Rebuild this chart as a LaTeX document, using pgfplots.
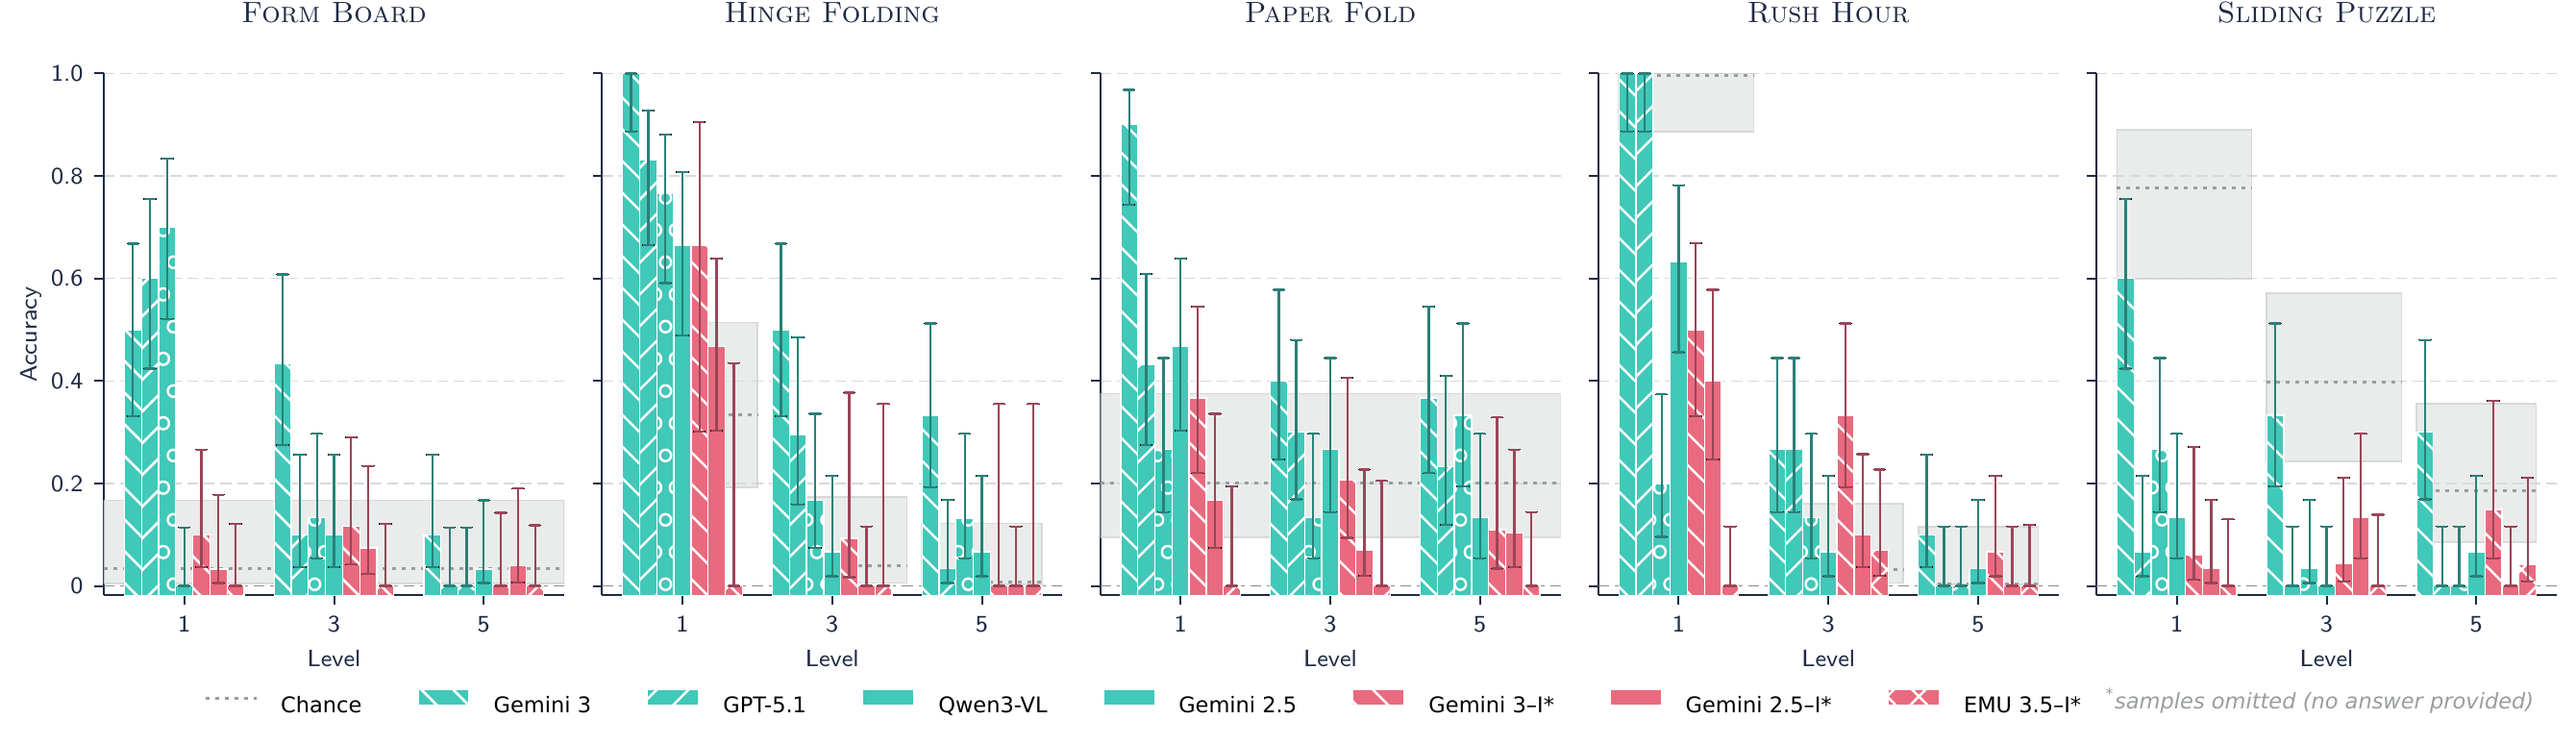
\documentclass[border=0pt]{standalone}
\usepackage{fontspec}
\usepackage{pgfplots}
\usepackage{pgfplotstable}
\pgfplotsset{compat=1.18}
\usetikzlibrary{patterns.meta,plotmarks}
\newfontfamily\legfont{DejaVu Sans}

\definecolor{tealbar}{HTML}{40C8B8}
\definecolor{pinkbar}{HTML}{E96A7E}
\definecolor{tealerr}{HTML}{2A8078}
\definecolor{pinkerr}{HTML}{9B4557}
\definecolor{navy}{HTML}{1E2A44}
\definecolor{gridc}{HTML}{D6D9DD}
\definecolor{bandfill}{HTML}{D9DDDB}
\definecolor{bandedge}{HTML}{C9CECC}
\definecolor{chancec}{HTML}{999D9D}
\definecolor{zeroc}{HTML}{858B94}

% open circles on a centred lattice for the Qwen3-VL bars
\pgfdeclarepattern{
  name=rings,
  type=uncolored,
  bottom left={\pgfpoint{0pt}{0pt}},
  top right={\pgfpoint{6.4pt}{20pt}},
  tile size={\pgfpoint{6.4pt}{20pt}},
  code={
    \pgfsetlinewidth{0.75pt}
    \pgfpathcircle{\pgfpoint{0pt}{0pt}}{1.8pt}
    \pgfpathcircle{\pgfpoint{6.4pt}{0pt}}{1.8pt}
    \pgfpathcircle{\pgfpoint{0pt}{20pt}}{1.8pt}
    \pgfpathcircle{\pgfpoint{6.4pt}{20pt}}{1.8pt}
    \pgfpathcircle{\pgfpoint{3.2pt}{10pt}}{1.8pt}
    \pgfusepath{stroke}
  }
}

% value, lower and upper end of the interval for each model and level
\pgfplotstableread{
lvl g3 g3l g3h gp gpl gph qw qwl qwh gf gfl gfh gi gil gih gfi gfil gfih emu emul emuh
1 0.500 0.331 0.668 0.600 0.424 0.755 0.700 0.521 0.834 0 0 0.114 0.100 0.037 0.266 0.033 0.006 0.178 0 0 0.121
3 0.433 0.275 0.608 0.100 0.037 0.256 0.133 0.054 0.297 0.100 0.037 0.256 0.116 0.042 0.290 0.074 0.023 0.234 0 0 0.121
5 0.100 0.037 0.256 0 0 0.114 0 0 0.114 0.033 0.006 0.167 0 0 0.143 0.039 0.007 0.190 0 0 0.118
}\tabFB
\pgfplotstableread{
lvl g3 g3l g3h gp gpl gph qw qwl qwh gf gfl gfh gi gil gih gfi gfil gfih emu emul emuh
1 1.000 0.887 1.000 0.831 0.665 0.928 0.766 0.591 0.881 0.665 0.489 0.808 0.665 0.301 0.905 0.467 0.303 0.639 0 0 0.435
3 0.500 0.331 0.668 0.295 0.159 0.485 0.167 0.074 0.336 0.067 0.019 0.215 0.093 0.017 0.377 0 0 0.116 0 0 0.355
5 0.332 0.193 0.512 0.034 0.006 0.168 0.132 0.054 0.297 0.067 0.019 0.215 0 0 0.355 0 0 0.116 0 0 0.355
}\tabHF
\pgfplotstableread{
lvl g3 g3l g3h gp gpl gph qw qwl qwh gf gfl gfh gi gil gih gfi gfil gfih emu emul emuh
1 0.900 0.744 0.968 0.432 0.275 0.609 0.267 0.144 0.445 0.467 0.303 0.639 0.367 0.220 0.545 0.167 0.074 0.336 0 0 0.194
3 0.400 0.247 0.578 0.300 0.169 0.480 0.133 0.054 0.297 0.267 0.144 0.445 0.207 0.094 0.406 0.069 0.020 0.227 0 0 0.205
5 0.367 0.220 0.545 0.233 0.119 0.410 0.333 0.194 0.512 0.133 0.054 0.297 0.110 0.034 0.329 0.103 0.037 0.266 0 0 0.144
}\tabPF
\pgfplotstableread{
lvl g3 g3l g3h gp gpl gph qw qwl qwh gf gfl gfh gi gil gih gfi gfil gfih emu emul emuh
1 1.000 0.887 1.000 1.000 0.887 1.000 0.200 0.096 0.374 0.633 0.456 0.782 0.500 0.331 0.669 0.400 0.247 0.578 0 0 0.116
3 0.267 0.144 0.445 0.267 0.144 0.445 0.133 0.054 0.297 0.067 0.019 0.215 0.333 0.193 0.512 0.100 0.037 0.257 0.070 0.020 0.227
5 0.100 0.037 0.256 0 0 0.116 0 0 0.116 0.034 0.006 0.168 0.067 0.019 0.215 0 0 0.116 0 0 0.119
}\tabRH
\pgfplotstableread{
lvl g3 g3l g3h gp gpl gph qw qwl qwh gf gfl gfh gi gil gih gfi gfil gfih emu emul emuh
1 0.600 0.424 0.755 0.067 0.019 0.215 0.267 0.144 0.445 0.133 0.054 0.297 0.060 0.012 0.271 0.034 0.006 0.168 0 0 0.130
3 0.333 0.194 0.512 0 0 0.116 0.034 0.006 0.168 0 0 0.116 0.043 0.009 0.211 0.133 0.054 0.297 0 0 0.139
5 0.300 0.169 0.480 0 0 0.116 0 0 0.116 0.067 0.019 0.215 0.149 0.054 0.361 0 0 0.116 0.042 0.009 0.211
}\tabSP

\pgfplotsset{
  barleg/.style={legend image code/.code={%
      \draw[##1] (0pt,0.4pt) rectangle (15.9pt,5.5pt);
      \path[draw=none, fill=none] (0pt,0pt) -- (23.4pt,0pt);}},
  chanceleg/.style={legend image code/.code={%
      \draw[##1] (0pt,2.7pt) -- (15.9pt,2.7pt);
      \path[draw=none] (0pt,0pt) -- (23.4pt,0pt);}},
  basebar/.style={ybar, bar width=0.22857, bar shift=0, draw=white, line width=0.4pt, barleg},
  sg3/.style={fill=tealbar, postaction={pattern={Lines[angle=-45,distance=7pt,line width=0.75pt]}, pattern color=white}},
  sgp/.style={fill=tealbar, postaction={pattern={Lines[angle=45,distance=7pt,line width=0.75pt]}, pattern color=white}},
  sqw/.style={fill=tealbar, postaction={pattern=rings, pattern color=white}},
  sgf/.style={fill=tealbar},
  sgi/.style={fill=pinkbar, postaction={pattern={Lines[angle=-45,distance=7pt,line width=0.75pt]}, pattern color=white}},
  sgfi/.style={fill=pinkbar},
  semu/.style={fill=pinkbar, postaction={pattern={Hatch[angle=45,distance=7pt,line width=0.75pt]}, pattern color=white}},
  capmark/.style={forget plot, only marks, mark=-, mark size=1.7pt,
    mark options={draw=#1, line width=0.7pt, solid}},
  band/.style={fill=bandfill, fill opacity=0.55, draw=bandedge, draw opacity=0.7, line width=0.5pt, forget plot},
  chance/.style={chancec, line width=0.9pt, dash pattern=on 1.2pt off 1.8pt, chanceleg},
  zeroline/.style={zeroc, line width=0.5pt, dash pattern=on 3.4pt off 1.8pt, forget plot},
  panel/.style={
    width=143.7pt, height=162.9pt, scale only axis, anchor=south west,
    xmin=-0.075, xmax=6.075, ymin=-0.0186, ymax=1,
    y coord trafo/.code={\pgfmathparse{##1+0.0186}},
    y coord inv trafo/.code={\pgfmathparse{##1-0.0186}},
    axis lines*=left, axis line style={navy, line width=0.6pt, -},
    xtick={1,3,5}, xticklabels={\textsf{1},\textsf{3},\textsf{5}},
    ytick={0,0.2,0.4,0.6,0.8,1.0}, yticklabels={},
    tick align=outside, major tick length=2.9pt,
    tick style={navy, line width=0.6pt},
    ymajorgrids, grid style={gridc, line width=0.45pt, dash pattern=on 3.4pt off 1.8pt},
    ticklabel style={font=\fontsize{7.4}{9}\selectfont, text=navy},
    title style={at={(0.5,1)}, anchor=base, yshift=9.9pt,
      font=\fontsize{9.2}{11}\selectfont\scshape, text=navy},
    xlabel={\textsf{Level}},
    xlabel style={at={(axis description cs:0.5,0)}, anchor=base, yshift=-22.2pt,
      font=\fontsize{7.4}{9}\selectfont, text=navy},
  },
}

% one model: its bars, then its interval whiskers and caps at the same positions
\newcommand{\onebar}[5]{%
  \addplot[basebar, #1] table[x expr=\thisrow{lvl}+#2, y=#3] {#4};
  \addplot[forget plot, draw=none, mark=none,
    error bars/.cd, y dir=both, y explicit,
    error bar style={line width=0.7pt, draw=#5, solid}]
    table[x expr=\thisrow{lvl}+#2, y=#3,
      y error plus expr=\thisrow{#3h}-\thisrow{#3},
      y error minus expr=\thisrow{#3}-\thisrow{#3l}] {#4};
  \addplot[capmark=#5] table[x expr=\thisrow{lvl}+#2, y=#3h] {#4};
  \addplot[capmark=#5] table[x expr=\thisrow{lvl}+#2, y=#3l] {#4};}
\newcommand{\modelbars}[1]{%
  \onebar{sg3}{-0.68571}{g3}{#1}{tealerr}
  \onebar{sgp}{-0.45714}{gp}{#1}{tealerr}
  \onebar{sqw}{-0.22857}{qw}{#1}{tealerr}
  \onebar{sgf}{0}{gf}{#1}{tealerr}
  \onebar{sgi}{0.22857}{gi}{#1}{pinkerr}
  \onebar{sgfi}{0.45714}{gfi}{#1}{pinkerr}
  \onebar{semu}{0.68571}{emu}{#1}{pinkerr}}

\begin{document}
\begin{tikzpicture}
\path[use as bounding box] (0pt,0pt) rectangle (804pt,232.2pt);

% Form Board
\begin{axis}[panel, at={(32.4pt,46.35pt)}, title={Form Board},
  yticklabels={\textsf{0},\textsf{0.2},\textsf{0.4},\textsf{0.6},\textsf{0.8},\textsf{1.0}},
  ylabel={\textsf{Accuracy}},
  ylabel style={at={(axis description cs:-0.1461,0.5)}, anchor=base,
    font=\fontsize{7.4}{9}\selectfont, text=navy},
  legend columns=8, legend cell align=left,
  legend style={at={(0.217,-0.206)}, anchor=west, draw=none, fill=none, inner sep=0pt,
    font=\legfont\fontsize{6.75}{8}\selectfont,
    /tikz/every even column/.append style={column sep=17.4pt},
    nodes={inner sep=0pt, text=black}},
  legend entries={Chance, Gemini 3, GPT-5.1, Qwen3-VL, Gemini 2.5, Gemini 3–I*, Gemini 2.5–I*, EMU 3.5–I*}]
\addplot[band] coordinates {(-0.075,0.005) (6.075,0.005) (6.075,0.167) (-0.075,0.167) (-0.075,0.005)};
\addplot[zeroline] coordinates {(-0.075,0) (6.075,0)};
\addplot[chance] coordinates {(-0.075,0.033) (6.075,0.033)};
\modelbars{\tabFB}
\end{axis}

% Hinge Folding
\begin{axis}[panel, at={(187.875pt,46.35pt)}, title={Hinge Folding}]
\addplot[band] coordinates {(0.2,0.193) (2.0,0.193) (2.0,0.514) (0.2,0.514) (0.2,0.193)};
\addplot[band] coordinates {(2.2,0.006) (4.0,0.006) (4.0,0.174) (2.2,0.174) (2.2,0.006)};
\addplot[band] coordinates {(4.2,0.003) (5.8,0.003) (5.8,0.122) (4.2,0.122) (4.2,0.003)};
\addplot[zeroline] coordinates {(-0.075,0) (6.075,0)};
\addplot[chance] coordinates {(0.2,0.334) (2.0,0.334)};
\addplot[chance, forget plot] coordinates {(2.2,0.039) (4.0,0.039)};
\addplot[chance, forget plot] coordinates {(4.2,0.007) (5.8,0.007)};
\modelbars{\tabHF}
\end{axis}

% Paper Fold
\begin{axis}[panel, at={(343.35pt,46.35pt)}, title={Paper Fold}]
\addplot[band] coordinates {(-0.075,0.095) (6.075,0.095) (6.075,0.375) (-0.075,0.375) (-0.075,0.095)};
\addplot[zeroline] coordinates {(-0.075,0) (6.075,0)};
\addplot[chance] coordinates {(-0.075,0.2) (6.075,0.2)};
\modelbars{\tabPF}
\end{axis}

% Rush Hour
\begin{axis}[panel, at={(498.825pt,46.35pt)}, title={Rush Hour}]
\addplot[band] coordinates {(0.2,0.886) (2.0,0.886) (2.0,1.0) (0.2,1.0) (0.2,0.886)};
\addplot[band] coordinates {(2.2,0.006) (4.0,0.006) (4.0,0.160) (2.2,0.160) (2.2,0.006)};
\addplot[band] coordinates {(4.2,0.003) (5.8,0.003) (5.8,0.116) (4.2,0.116) (4.2,0.003)};
\addplot[zeroline] coordinates {(-0.075,0) (6.075,0)};
\addplot[chance] coordinates {(0.2,0.997) (2.0,0.997)};
\addplot[chance, forget plot] coordinates {(2.2,0.032) (4.0,0.032)};
\addplot[chance, forget plot] coordinates {(4.2,0.004) (5.8,0.004)};
\modelbars{\tabRH}
\end{axis}

% Sliding Puzzle
\begin{axis}[panel, at={(654.3pt,46.35pt)}, title={Sliding Puzzle}]
\addplot[band] coordinates {(0.2,0.600) (2.0,0.600) (2.0,0.890) (0.2,0.890) (0.2,0.600)};
\addplot[band] coordinates {(2.2,0.243) (4.0,0.243) (4.0,0.571) (2.2,0.571) (2.2,0.243)};
\addplot[band] coordinates {(4.2,0.086) (5.8,0.086) (5.8,0.356) (4.2,0.356) (4.2,0.086)};
\addplot[zeroline] coordinates {(-0.075,0) (6.075,0)};
\addplot[chance] coordinates {(0.2,0.776) (2.0,0.776)};
\addplot[chance, forget plot] coordinates {(2.2,0.397) (4.0,0.397)};
\addplot[chance, forget plot] coordinates {(4.2,0.186) (5.8,0.186)};
\modelbars{\tabSP}
\end{axis}

\node[anchor=base west, inner sep=0pt, font=\legfont\fontsize{6.75}{8}\selectfont, text=chancec]
  at (657pt,10.8pt) {\textsuperscript{*}\textit{samples omitted (no answer provided)}};
\end{tikzpicture}
\end{document}
